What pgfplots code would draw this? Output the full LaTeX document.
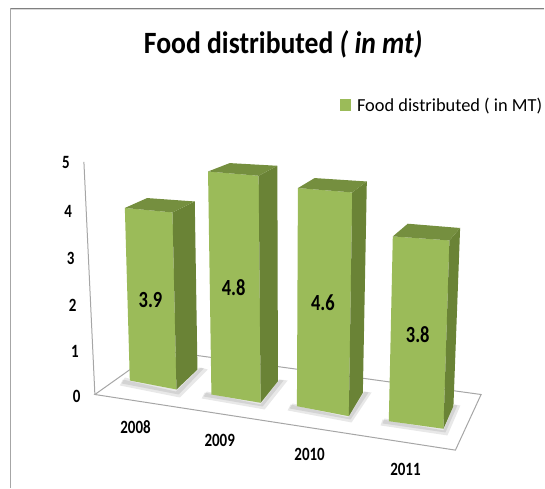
\documentclass[border=0pt]{standalone}
\usepackage{graphicx}
\usepackage{pgfplots}
\pgfplotsset{compat=1.18}
\usepackage{fontspec}
\setmainfont{Carlito}
\definecolor{barfront}{HTML}{9BBB59}
\definecolor{barside}{HTML}{6A8336}
\definecolor{bartop}{HTML}{758F3F}
\definecolor{axisgrey}{HTML}{A6A6A6}
% one polygon: screen y = Y - S*H*value, H=1 for a corner at the top of the bar
\newcommand{\F}[3]{\addplot[fill=#1,draw=none,forget plot] table[x=X,y expr=\thisrow{Y}-\thisrow{S}*\thisrow{H}*#2,row sep=\\]{X Y S H\\#3} -- cycle;}
\newcommand{\Sh}[1]{\addplot[fill=black,fill opacity=0.09,draw=none,forget plot] coordinates {#1} -- cycle;}
\newcommand{\T}[1]{\scalebox{1}[1.25]{#1}}
\begin{document}
\begin{tikzpicture}
\begin{axis}[
  scale only axis, width=545pt, height=489pt,
  xmin=0, xmax=545, ymin=0, ymax=489, y dir=reverse,
  axis lines=none, clip=false,
  legend style={at={(axis cs:340,105.5)},anchor=west,draw=none,fill=none,font=\fontsize{18.4}{20}\selectfont,inner sep=0pt,outer sep=0pt},
  legend image code/.code={\fill[barfront] (0pt,-6pt) rectangle (11.5pt,6pt);},
  every axis legend/.append style={legend cell align=left},
]
% page extent
\addplot[draw=none,forget plot] coordinates {(0,0) (545,489)};
% frame
\addplot[draw=gray,line width=1.4pt,forget plot] coordinates {(545,8.5) (10.5,8.5)};
\addplot[draw=black!15,line width=0.8pt,forget plot] coordinates {(545,9.8) (11.2,9.8)};
\addplot[draw=axisgrey,line width=1pt,forget plot] coordinates {(10.5,8.5) (10.5,489)};
% floor and vertical axis
\addplot[draw=axisgrey,line width=1pt,fill=white,forget plot] coordinates {(95,395) (157.7,350.5) (481.7,395) (456,450.7)} -- cycle;
\addplot[draw=axisgrey,line width=1pt,forget plot] coordinates {(95,395) (84,162)};
% shadows
\Sh{(123,380)(176,392)(201,368)(208,370)(180,398)(120,386)}
\Sh{(125,378)(176,390)(199,368)(204,369)(179,395)(122,384)}
\Sh{(205,393)(261,405)(280,380)(288,381)(265,410)(202,399)}
\Sh{(207,392)(261,403)(279,380)(284,381)(263,407)(204,397)}
\Sh{(291,405)(349,418)(365,392)(372,393)(352,423)(288,411)}
\Sh{(293,404)(349,416)(364,392)(369,393)(351,420)(290,409)}
\Sh{(383,420)(444,431)(455,405)(461,406)(448,436)(381,426)}
\Sh{(385,419)(444,429)(455,405)(458,406)(446,433)(383,424)}
% bar 2008: 3.9
\addplot[fill=barfront,draw=none] table[x=X,y expr=\thisrow{Y}-\thisrow{S}*\thisrow{H}*3.9,row sep=\\]{X Y S H\\130 381 44.3 0\\125 381 44.3 1\\172.7 390 45.46 1\\176.7 390 45.46 0\\} -- cycle;
\addlegendentry{\hspace*{4pt}Food distributed ( in MT)}
\F{barside}{3.9}{176.7 390 45.46 0\\172.7 390 45.46 1\\195 370 43.15 1\\197.7 370 43.15 0\\}
\F{bartop}{3.9}{125 381 44.3 1\\147.3 366 43 1\\195 370 43.15 1\\172.7 390 45.46 1\\}
% bar 2009: 4.8
\F{barfront}{4.8}{211.7 395 46.52 0\\208.3 395 46.52 1\\259 403.3 47.35 1\\261 403.3 47.35 0\\}
\F{barside}{4.8}{261 403.3 47.35 0\\259 403.3 47.35 1\\277.7 381.7 44.94 1\\278.3 381.7 44.94 0\\}
\F{bartop}{4.8}{208.3 395 46.52 1\\230 376.9 44.5 1\\277.7 381.7 44.94 1\\259 403.3 47.35 1\\}
% bar 2010: 4.6
\F{barfront}{4.6}{297.3 406.7 47.48 0\\298.3 406.7 47.48 1\\352.7 416.7 48.7 1\\349.3 416.7 48.7 0\\}
\F{barside}{4.6}{349.3 416.7 48.7 0\\352.7 416.7 48.7 1\\367.3 393.3 46 1\\363.3 393.3 46 0\\}
\F{bartop}{4.6}{298.3 406.7 47.48 1\\315 387.6 45.5 1\\367.3 393.3 46 1\\352.7 416.7 48.7 1\\}
% bar 2011: 3.8
\F{barfront}{3.8}{389.3 421.7 48.68 0\\393.3 421.7 48.68 1\\450 429.3 49.63 1\\444 429.3 49.63 0\\}
\F{barside}{3.8}{444 429.3 49.63 0\\450 429.3 49.63 1\\460.7 406.7 46.95 1\\454 406.7 46.95 0\\}
\F{bartop}{3.8}{393.3 421.7 48.68 1\\408.3 400.7 46.5 1\\460.7 406.7 46.95 1\\450 429.3 49.63 1\\}
% title
\node[font=\bfseries\fontsize{27.7}{32}\selectfont] at (axis cs:283.5,44) {\scalebox{1}[1.12]{Food distributed \textit{( in mt)}}};
% value axis labels
\begin{scope}[every node/.style={font=\bfseries\fontsize{15}{17}\selectfont}]
\node at (axis cs:66,163) {\T{5}};
\node at (axis cs:68.3,211.7) {\T{4}};
\node at (axis cs:70.7,259) {\T{3}};
\node at (axis cs:72.7,305.7) {\T{2}};
\node at (axis cs:75,352) {\T{1}};
\node at (axis cs:76.7,396.7) {\T{0}};
\node at (axis cs:135.7,428) {\T{2008}};
\node at (axis cs:220,441) {\T{2009}};
\node at (axis cs:310,455) {\T{2010}};
\node at (axis cs:406,470) {\T{2011}};
\end{scope}
\begin{scope}[every node/.style={font=\bfseries\fontsize{18.5}{20}\selectfont}]
\node at (axis cs:150.7,300.7) {\T{3.9}};
\node at (axis cs:234,288) {\T{4.8}};
\node at (axis cs:323.3,303.3) {\T{4.6}};
\node at (axis cs:418.3,335) {\T{3.8}};
\end{scope}
\end{axis}
\end{tikzpicture}
\end{document}
